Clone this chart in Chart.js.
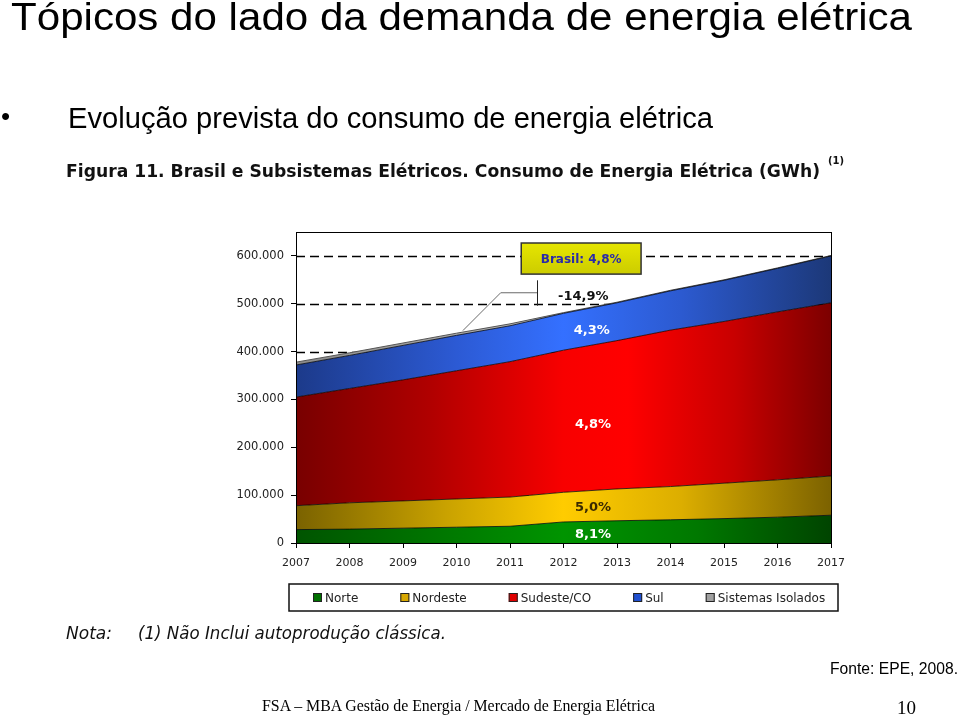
<!DOCTYPE html>
<html>
<head>
<meta charset="utf-8">
<script src="https://cdn.jsdelivr.net/npm/chart.js@4"></script>
<style>
  html,body{margin:0;padding:0;background:#fff;}
  body{width:960px;height:716px;position:relative;overflow:hidden;}
  .t{position:absolute;white-space:nowrap;line-height:1;color:#000;transform-origin:0 0;}
  #c{position:absolute;left:0;top:0;}
</style>
</head>
<body>
<canvas id="c" width="960" height="716"></canvas>
<div class="t fit" data-w="901" style="left:11px;top:-2px;font-family:'Liberation Sans';font-size:38px;">Tópicos do lado da demanda de energia elétrica</div>
<div class="t" style="left:1px;top:103px;font-family:'Liberation Sans';font-size:26px;">•</div>
<div class="t fit" data-w="645" style="left:68px;top:104px;font-family:'Liberation Sans';font-size:29px;">Evolução prevista do consumo de energia elétrica</div>
<div class="t fit" data-w="754" style="left:66px;top:162px;font-family:'DejaVu Sans';font-weight:bold;font-size:18px;color:#111;">Figura 11. Brasil e Subsistemas Elétricos. Consumo de Energia Elétrica (GWh)</div>
<div class="t" style="left:828px;top:156px;font-family:'DejaVu Sans';font-weight:bold;font-size:10px;color:#111;">(1)</div>
<div class="t fit" data-w="46" style="left:66px;top:625px;font-family:'DejaVu Sans';font-style:italic;font-size:17px;color:#111;">Nota:</div>
<div class="t fit" data-w="308" style="left:138px;top:625px;font-family:'DejaVu Sans';font-style:italic;font-size:17px;color:#111;">(1) Não Inclui autoprodução clássica.</div>
<div class="t fit" data-w="128" style="left:830px;top:661px;font-family:'Liberation Sans';font-size:16px;">Fonte: EPE, 2008.</div>
<div class="t fit" data-w="393" style="left:262px;top:698px;font-family:'Liberation Serif';font-size:16px;">FSA – MBA Gestão de Energia / Mercado de Energia Elétrica</div>
<div class="t" style="left:897px;top:698px;font-family:'Liberation Serif';font-size:19px;">10</div>
<script>
// ---- data ----
const years = ['2007','2008','2009','2010','2011','2012','2013','2014','2015','2016','2017'];
const norte    = [28000, 29000, 31000, 33000, 35000, 44000, 46500, 48500, 51000, 54000, 58000];
const nordeste = [50000, 55000, 57000, 59000, 61000, 62000, 66500, 69500, 74000, 78000, 82000];
const sudeste  = [227000, 239000, 253000, 268000, 283000, 297000, 310000, 327000, 338000, 351000, 362000];
const sul      = [67000, 69000, 72000, 74000, 75000, 77000, 79000, 82000, 86000, 91000, 98000];
const isolados = [6000, 5500, 5000, 4500, 4000, 1500, 1300, 1200, 1100, 1000, 900];
const seriesNames = ['Norte','Nordeste','Sudeste/CO','Sul','Sistemas Isolados'];
const yTickValues = [0, 100000, 200000, 300000, 400000, 500000, 600000];
const growthLabels = ['8,1%','5,0%','4,8%','4,3%','-14,9%'];
const brasilLabel = 'Brasil: 4,8%';

// fit text widths
document.querySelectorAll('.fit').forEach(el=>{
  const w = el.getBoundingClientRect().width;
  const target = +el.dataset.w;
  if (w>0) el.style.transform = 'scaleX(' + (target/w) + ')';
});

function hGrad(stops){
  return (c)=>{
    const a = c.chart.chartArea;
    if(!a) return stops[0][1];
    const g = c.chart.ctx.createLinearGradient(a.left,0,a.right,0);
    stops.forEach(s=>g.addColorStop(s[0],s[1]));
    return g;
  };
}
const styles = [
  {bg: hGrad([[0,'#005400'],[0.5,'#009400'],[0.75,'#007800'],[1,'#004400']]), legend:'#007000'},
  {bg: hGrad([[0,'#7a6200'],[0.28,'#c9a200'],[0.5,'#ffcc00'],[0.72,'#dcae00'],[1,'#7c6200']]), legend:'#d8a800'},
  {bg: hGrad([[0,'#780000'],[0.25,'#b00000'],[0.5,'#f80000'],[0.62,'#ff0000'],[0.82,'#c80000'],[1,'#7c0000']]), legend:'#e00000'},
  {bg: hGrad([[0,'#1c3a8a'],[0.3,'#2c5ad4'],[0.5,'#3470ff'],[0.72,'#2c5ad0'],[1,'#1c3878']]), legend:'#2050d0'},
  {bg: hGrad([[0,'#8a8a8a'],[0.5,'#bdbdbd'],[1,'#909090']]), legend:'#a0a0a0'}
];
const values = [norte, nordeste, sudeste, sul, isolados];

const datasets = values.map((v,i)=>({
  label: seriesNames[i],
  data: v,
  fill: i===0 ? 'origin' : '-1',
  backgroundColor: styles[i].bg,
  borderColor: i===4 ? '#555' : 'rgba(0,0,0,0.75)',
  borderWidth: 1,
  pointRadius: 0,
  tension: 0,
  legendColor: styles[i].legend
}));

function fmt(v){ return String(v).replace(/\B(?=(\d{3})+(?!\d))/g,'.'); }

const FONT = "'DejaVu Sans'";

const gridPlugin = {
  id:'dashGrid',
  beforeDatasetsDraw(chart){
    const {ctx, chartArea:a, scales:{y}} = chart;
    ctx.save();
    ctx.strokeStyle = '#000'; ctx.lineWidth = 1.3; ctx.setLineDash([9,5]);
    yTickValues.forEach(v=>{
      if(v===0) return;
      const py = Math.round(y.getPixelForValue(v))+0.5;
      ctx.beginPath(); ctx.moveTo(a.left,py); ctx.lineTo(a.right,py); ctx.stroke();
    });
    ctx.restore();
  }
};

const annotations = [
  {text: growthLabels[0], x:5.55, y:17000,  color:'#ffffff'},
  {text: growthLabels[1], x:5.55, y:74000,  color:'#3a2a00'},
  {text: growthLabels[2], x:5.55, y:247000, color:'#ffffff'},
  {text: growthLabels[3], x:5.53, y:443000, color:'#ffffff'},
  {text: growthLabels[4], x:5.37, y:515000, color:'#111111'}
];

const annoPlugin = {
  id:'anno',
  afterDatasetsDraw(chart){
    const {ctx, chartArea:a, scales:{x,y}} = chart;
    ctx.save();
    // frame
    ctx.strokeStyle = '#000'; ctx.lineWidth = 1; ctx.setLineDash([]);
    ctx.strokeRect(a.left+0.5, a.top+0.5, a.right-a.left, a.bottom-a.top);
    // callout line
    ctx.strokeStyle = '#6a6a6a'; ctx.lineWidth = 1;
    ctx.beginPath();
    ctx.moveTo(x.getPixelForValue(3.12), y.getPixelForValue(444000));
    ctx.lineTo(x.getPixelForValue(3.826), y.getPixelForValue(523000));
    ctx.lineTo(x.getPixelForValue(4.505), y.getPixelForValue(523000));
    ctx.stroke();
    ctx.strokeStyle = '#222';
    ctx.beginPath();
    const vx = Math.round(x.getPixelForValue(4.505))+0.5;
    ctx.moveTo(vx, y.getPixelForValue(549000));
    ctx.lineTo(vx, y.getPixelForValue(496000));
    ctx.stroke();
    // Brasil box
    const bx1 = x.getPixelForValue(4.21), bx2 = x.getPixelForValue(6.45);
    const by1 = y.getPixelForValue(627000), by2 = y.getPixelForValue(562000);
    const g = ctx.createLinearGradient(0,by1,0,by2);
    g.addColorStop(0,'#e6e600'); g.addColorStop(1,'#cccc00');
    ctx.fillStyle = g;
    ctx.fillRect(bx1,by1,bx2-bx1,by2-by1);
    ctx.strokeStyle = '#333'; ctx.lineWidth = 1.5;
    ctx.strokeRect(bx1,by1,bx2-bx1,by2-by1);
    ctx.fillStyle = '#2a2aa8';
    ctx.font = 'bold 12px ' + FONT;
    ctx.textAlign = 'center'; ctx.textBaseline = 'middle';
    ctx.fillText(brasilLabel, (bx1+bx2)/2, (by1+by2)/2+1);
    // labels
    ctx.font = 'bold 13px ' + FONT;
    annotations.forEach(an=>{
      ctx.fillStyle = an.color;
      ctx.fillText(an.text, x.getPixelForValue(an.x), y.getPixelForValue(an.y));
    });
    ctx.restore();
  },
  afterDraw(chart){
    // legend box
    const {ctx, chartArea:a} = chart;
    const left = a.left - 7, right = a.right + 7, top = a.bottom + 41, h = 27;
    ctx.save();
    ctx.strokeStyle = '#111'; ctx.lineWidth = 1.5;
    ctx.strokeRect(left, top, right-left, h);
    ctx.font = '12px ' + FONT;
    ctx.textBaseline = 'middle'; ctx.textAlign = 'left';
    let px = left + 24;
    const cy = top + h/2;
    chart.data.datasets.forEach(ds=>{
      ctx.fillStyle = ds.legendColor;
      ctx.fillRect(px, cy-4.5, 9, 9);
      ctx.strokeStyle = '#222'; ctx.lineWidth = 1;
      ctx.strokeRect(px+0.5, cy-4.5+0.5, 8, 8);
      ctx.fillStyle = '#222';
      ctx.fillText(ds.label, px+12, cy+1);
      px += 12 + ctx.measureText(ds.label).width + 42;
    });
    ctx.restore();
  }
};

new Chart(document.getElementById('c'), {
  type:'line',
  data:{ labels: years, datasets },
  options:{
    responsive:false,
    animation:false,
    layout:{ padding:{ left:230, right:129, top:232, bottom:143 } },
    plugins:{ legend:{display:false}, tooltip:{enabled:false}, title:{display:false} },
    scales:{
      x:{
        offset:false,
        grid:{ drawOnChartArea:false, drawTicks:true, tickLength:5, color:'#000', lineWidth:1 },
        border:{ display:true, color:'#000' },
        ticks:{ font:{family:FONT, size:11}, color:'#222', padding:9, maxRotation:0, autoSkip:false },
        afterFit(s){ s.height = 30; }
      },
      y:{
        stacked:true, min:0, max:650000,
        grid:{ drawOnChartArea:false, drawTicks:true, tickLength:5, color:'#000' },
        border:{ display:true, color:'#000' },
        ticks:{ stepSize:100000, font:{family:FONT, size:11.5}, color:'#222', padding:7, callback:(v)=>fmt(v) },
        afterBuildTicks(s){ s.ticks = yTickValues.map(v=>({value:v})); },
        afterFit(s){ s.width = 66; }
      }
    }
  },
  plugins:[gridPlugin, annoPlugin]
});
</script>
</body>
</html>
